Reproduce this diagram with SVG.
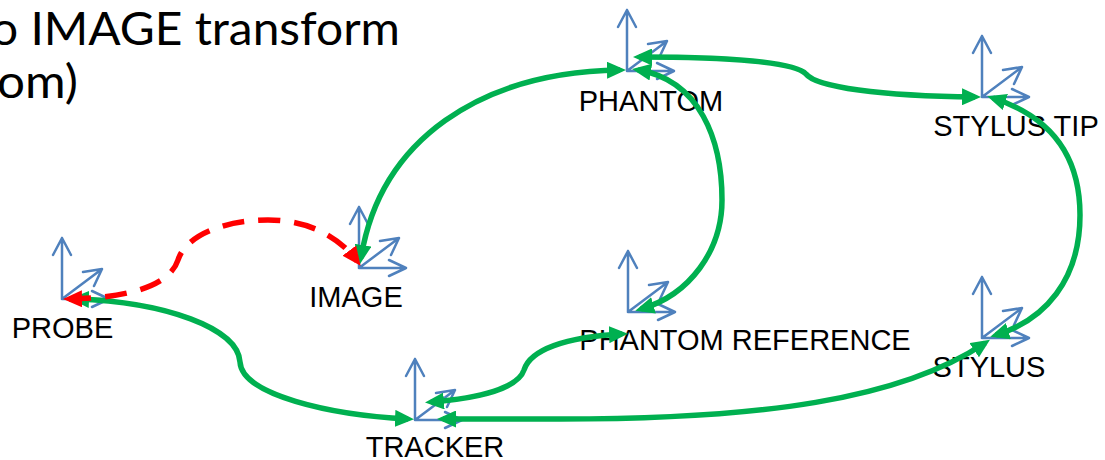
<svg xmlns="http://www.w3.org/2000/svg" width="1105" height="460" viewBox="0 0 1105 460">
<style>
.lbl{font-family:"Liberation Sans",Arial,sans-serif;font-size:29px;fill:#000;text-anchor:middle}
.title{font-family:Lato,"Open Sans",sans-serif;font-size:46px;fill:#000}
.ax{stroke:#4F81BD;stroke-width:2.5;fill:none;stroke-linecap:round;stroke-linejoin:round}
.g{stroke:#00B050;stroke-width:5.5;fill:none;marker-start:url(#ag);marker-end:url(#ag)}
.r{stroke:#FF0000;stroke-width:5.5;fill:none;stroke-dasharray:22 14;marker-start:url(#ar);marker-end:url(#ar)}
</style>
<defs>
<marker id="ag" viewBox="0 0 19 17" markerWidth="19" markerHeight="17" markerUnits="userSpaceOnUse" refX="13" refY="8.5" orient="auto-start-reverse"><path d="M0,0L19,8.5L0,17z" fill="#00B050"/></marker>
<marker id="ar" viewBox="0 0 19 17" markerWidth="19" markerHeight="17" markerUnits="userSpaceOnUse" refX="13" refY="8.5" orient="auto-start-reverse"><path d="M0,0L19,8.5L0,17z" fill="#FF0000"/></marker>
<g id="frame"><path class="ax" d="M0,0V-61M-9,-44L0,-61L9,-44M0,0L40,-30M21,-27L40,-30L32,-13M0,0H47M30,-8L47,0L30,8"/></g>
</defs>
<rect width="1105" height="460" fill="#fff"/>
<g id="title">
<text class="title" x="-9" y="45" textLength="409" lengthAdjust="spacingAndGlyphs">o IMAGE transform</text>
<text class="title" x="-3" y="98" textLength="81" lengthAdjust="spacingAndGlyphs">om)</text>
</g>
<g id="nodes">
<g id="node-probe"><use href="#frame" transform="translate(62,299)"/><text class="lbl" x="62.5" y="338">PROBE</text></g>
<g id="node-image"><use href="#frame" transform="translate(359,268)"/><text class="lbl" x="356" y="307">IMAGE</text></g>
<g id="node-phantom"><use href="#frame" transform="translate(627,71)"/><text class="lbl" x="651" y="111">PHANTOM</text></g>
<g id="node-stylus-tip"><use href="#frame" transform="translate(982,97)"/><text class="lbl" x="1016" y="136">STYLUS TIP</text></g>
<g id="node-phantom-reference"><use href="#frame" transform="translate(628,312)"/><text class="lbl" x="745" y="350">PHANTOM REFERENCE</text></g>
<g id="node-stylus"><use href="#frame" transform="translate(982,338)"/><text class="lbl" x="989" y="377">STYLUS</text></g>
<g id="node-tracker"><use href="#frame" transform="translate(415,420)"/><text class="lbl" x="435" y="457">TRACKER</text></g>
</g>
<g id="connectors">
<path class="g" d="M76,299 C165,302 238,328 240,362 C242,395 330,415 408,419"/>
<path class="g" d="M431,402 C480,398 518,388 524,370 C530,350 565,337 622,334"/>
<path class="g" d="M443,419 L560,419 C760,419 900,400 985,343"/>
<path class="g" d="M996,335 C1045,320 1080,280 1080,215 C1080,160 1055,118 993,98"/>
<path class="g" d="M639,57 C730,57 795,62 806,74 C816,87 880,96 975,97"/>
<path class="g" d="M638,70 C700,80 722,140 722,200 C722,250 690,295 641,309"/>
<path class="g" d="M361,258 C380,140 480,72 620,70"/>
<path class="r" d="M69,299 C130,298 170,285 178,260 C186,235 225,220 268,220 C310,220 340,238 357,261"/>
</g>
</svg>
